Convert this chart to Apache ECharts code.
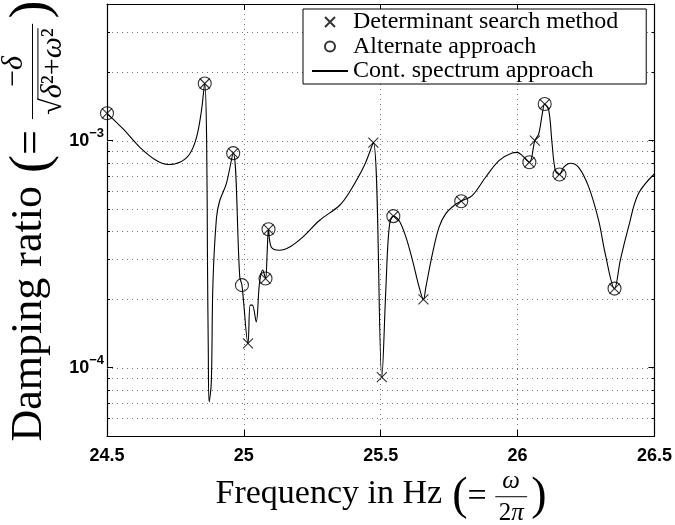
<!DOCTYPE html>
<html>
<head>
<meta charset="utf-8">
<script src="https://cdn.jsdelivr.net/npm/echarts@6/dist/echarts.min.js"></script>
<style>
html, body { margin: 0; padding: 0; background: #fff; }
#chart { width: 675px; height: 525px; }
</style>
</head>
<body>
<div id="chart"></div>
<script>
// frequency (Hz) / damping ratio
var detFreq = [24.500, 24.857, 24.961, 25.015, 25.079, 25.090, 25.473, 25.504, 25.546, 25.656, 25.794, 26.043, 26.063, 26.099, 26.153, 26.354];
var detDamp = [1.32e-3, 1.786e-3, 8.81e-4, 1.28e-4, 2.47e-4, 4.07e-4, 9.8e-4, 9.08e-5, 4.65e-4, 2.0e-4, 5.41e-4, 8.03e-4, 1.0e-3, 1.45e-3, 7.1e-4, 2.23e-4];

var altFreq = [24.500, 24.857, 24.961, 24.993, 25.079, 25.090, 25.546, 25.794, 26.043, 26.099, 26.153, 26.354];
var altDamp = [1.32e-3, 1.786e-3, 8.81e-4, 2.31e-4, 2.47e-4, 4.07e-4, 4.65e-4, 5.41e-4, 8.03e-4, 1.45e-3, 7.1e-4, 2.23e-4];

var contFreq = [24.500, 24.559, 24.620, 24.681, 24.723, 24.766, 24.802, 24.827, 24.845, 24.857,
	24.864, 24.867, 24.870, 24.873, 24.881, 24.887, 24.900, 24.912, 24.936, 24.961,
	24.985, 24.993, 25.015, 25.023, 25.031, 25.045, 25.057, 25.069, 25.079, 25.085,
	25.090, 25.100, 25.130, 25.167, 25.215, 25.276, 25.349, 25.385, 25.440, 25.473,
	25.504, 25.519, 25.531, 25.546, 25.567, 25.592, 25.616, 25.640, 25.656, 25.665,
	25.689, 25.713, 25.737, 25.768, 25.794, 25.834, 25.883, 25.932, 25.980, 25.998,
	26.017, 26.043, 26.063, 26.077, 26.090, 26.099, 26.114, 26.126, 26.138, 26.153,
	26.168, 26.193, 26.223, 26.260, 26.296, 26.320, 26.354, 26.375, 26.405, 26.441, 26.500];
var contDamp = [1.32e-3, 1.126e-3, 9.35e-4, 8.17e-4, 7.85e-4, 8.03e-4, 8.74e-4, 1.034e-3, 1.355e-3, 1.786e-3,
	1.0e-3, 3.0e-4, 1.2e-4, 7.07e-5, 8.57e-5, 2.355e-4, 4.59e-4, 5.45e-4, 6.47e-4, 8.81e-4,
	2.51e-4, 2.31e-4, 1.28e-4, 1.885e-4, 1.885e-4, 1.59e-4, 2.355e-4, 2.69e-4, 2.47e-4, 3.2e-4,
	4.07e-4, 3.40e-4, 3.29e-4, 3.40e-4, 3.76e-4, 4.45e-4, 5.18e-4, 5.91e-4, 7.77e-4, 9.8e-4,
	9.08e-5, 2.27e-4, 4.16e-4, 4.65e-4, 4.45e-4, 3.76e-4, 2.97e-4, 2.27e-4, 2.0e-4, 2.27e-4,
	3.18e-4, 4.16e-4, 4.76e-4, 5.18e-4, 5.41e-4, 5.73e-4, 6.90e-4, 8.17e-4, 8.83e-4, 8.88e-4,
	8.59e-4, 8.03e-4, 1.0e-3, 1.07e-3, 1.31e-3, 1.45e-3, 1.355e-3, 9.67e-4, 7.38e-4, 7.1e-4,
	7.63e-4, 7.95e-4, 7.63e-4, 6.24e-4, 4.45e-4, 3.18e-4, 2.23e-4, 2.97e-4, 4.16e-4, 5.83e-4, 7.15e-4];

var xTicks = [24.5, 25, 25.5, 26, 26.5];
var yMajor = [1e-4, 1e-3];
var yGrid = [6e-5, 7e-5, 8e-5, 9e-5, 1e-4, 2e-4, 3e-4, 4e-4, 5e-4, 6e-4, 7e-4, 8e-4, 9e-4, 1e-3, 2e-3, 3e-3];
var yMin = 5e-5, yMax = 4e-3;

var SERIF = '"Liberation Serif", "Times New Roman", serif';
var SANS = '"Liberation Sans", Arial, sans-serif';

function zip(a, b) {
	return a.map(function (v, i) { return [v, b[i]]; });
}

// ---- axis titles with a small fraction (LaTeX look) ----
var measureCtx = document.createElement('canvas').getContext('2d');
function textWidth(str, size, style) {
	measureCtx.font = (style || 'normal') + ' ' + size + 'px ' + SERIF;
	return measureCtx.measureText(str).width;
}
function runWidth(run, size) {
	var w = 0;
	run.forEach(function (p) { w += textWidth(p[0], size, p[1] ? 'italic' : 'normal'); });
	return w;
}
function runTexts(run, size, x0, y) {
	var out = [], x = x0;
	run.forEach(function (p) {
		var st = p[1] ? 'italic' : 'normal';
		out.push({ type: 'text', x: x, y: y, silent: true,
			style: { text: p[0], fontFamily: SERIF, fontSize: size, fontStyle: st, fill: '#000', align: 'left', verticalAlign: 'middle' } });
		x += textWidth(p[0], size, st);
	});
	return out;
}
function hline(x1, x2, y) {
	return { type: 'line', silent: true, shape: { x1: x1, y1: y, x2: x2, y2: y }, style: { stroke: '#000', lineWidth: 1 } };
}
function fracTitle(label, num, den, root, size, small, big) {
	var ax = size * 0.08; // math axis
	var kids = [], x = 0;
	kids = kids.concat(runTexts([[label, false]], size, x, 0));
	x += textWidth(label, size) + size * 0.3;
	kids = kids.concat(runTexts([['(', false]], big, x, ax));
	x += textWidth('(', big);
	kids = kids.concat(runTexts([['=', false]], size, x, ax));
	x += textWidth('=', size) + size * 0.25;
	var wn = runWidth(num, small), wd = runWidth(den, small);
	var rw = root ? textWidth('\u221A', small) : 0;
	var wf = Math.max(wn, wd + rw) + size * 0.2;
	kids = kids.concat(runTexts(num, small, x + (wf - wn) / 2, ax - small * 0.62));
	kids.push(hline(x, x + wf, ax));
	var dx = x + (wf - wd - rw) / 2, dy = ax + small * 0.68;
	if (root) {
		kids = kids.concat(runTexts([['\u221A', false]], small, dx, dy));
		kids.push(hline(dx + rw - 1, dx + rw + wd, dy - small * 0.5));
	}
	kids = kids.concat(runTexts(den, small, dx + rw, dy));
	x += wf + size * 0.12;
	kids = kids.concat(runTexts([[')', false]], big, x, ax));
	x += textWidth(')', big);
	kids.forEach(function (k) {
		if (k.type === 'line') { k.shape.x1 -= x / 2; k.shape.x2 -= x / 2; }
		else { k.x -= x / 2; }
	});
	return kids;
}

var yTitle = fracTitle('Damping ratio',
	[['\u2212', false], ['\u03B4', true]],
	[['\u03B4', true], ['\u00B2+', false], ['\u03C9', true], ['\u00B2', false]], true, 44, 30, 54);
var xTitle = fracTitle('Frequency in Hz',
	[['\u03C9', true]],
	[['2', false], ['\u03C0', true]], false, 34, 25, 46);

var chart = echarts.init(document.getElementById('chart'));

var axisLineStyle = { color: '#000', width: 1.2 };
var gridDash = [1, 4];

var option = {
	backgroundColor: '#fff',
	animation: false,
	grid: { left: 107, right: 19, top: 4, bottom: 89, containLabel: false },
	legend: {
		orient: 'vertical',
		left: 303, top: 9,
		data: ['Determinant search method', 'Alternate approach', 'Cont. spectrum approach'],
		backgroundColor: '#fff',
		borderColor: '#000', borderWidth: 1, borderRadius: 0,
		padding: [1, 28, 1, 8],
		itemGap: 0.5, itemWidth: 36, itemHeight: 10,
		selectedMode: false,
		textStyle: { fontFamily: SERIF, fontSize: 24, lineHeight: 22.5, color: '#000' }
	},
	xAxis: [{
		type: 'value', position: 'bottom',
		min: xTicks[0], max: xTicks[xTicks.length - 1], interval: 0.5,
		axisLine: { lineStyle: axisLineStyle },
		axisTick: { inside: true, length: 6, lineStyle: { color: '#000' } },
		axisLabel: { color: '#000', fontFamily: SANS, fontWeight: 'bold', fontSize: 18, margin: 11 },
		splitLine: { show: true, lineStyle: { color: '#777', type: gridDash, width: 1 } }
	}, {
		type: 'value', position: 'top',
		min: xTicks[0], max: xTicks[xTicks.length - 1], interval: 0.5,
		axisLine: { lineStyle: axisLineStyle },
		axisTick: { inside: true, length: 6, lineStyle: { color: '#000' } },
		axisLabel: { show: false },
		splitLine: { show: false }
	}],
	yAxis: [{
		type: 'log', logBase: 10, position: 'left',
		min: yMin, max: yMax,
		axisLine: { show: true, lineStyle: axisLineStyle },
		axisTick: { inside: true, length: 6, lineStyle: { color: '#000' } },
		axisLabel: {
			margin: 3,
			formatter: function (v) {
				var e = Math.log(v) / Math.LN10;
				var r = Math.round(e);
				if (Math.abs(e - r) > 1e-6) return '';
				return '{b|10}{s|\u2212' + (-r) + '}';
			},
			rich: {
				b: { fontFamily: SANS, fontWeight: 'bold', fontSize: 18, color: '#000' },
				s: { fontFamily: SANS, fontWeight: 'bold', fontSize: 13, color: '#000', padding: [0, 0, 14, 0] }
			}
		},
		splitLine: { show: false }
	}, {
		type: 'log', logBase: 10, position: 'right',
		min: yMin, max: yMax,
		axisLine: { show: true, lineStyle: axisLineStyle },
		axisTick: { inside: true, length: 6, lineStyle: { color: '#000' } },
		axisLabel: { show: false },
		splitLine: { show: false }
	}],
	graphic: [{
		type: 'group', x: 29, y: 221, rotation: Math.PI / 2, children: yTitle
	}, {
		type: 'group', x: 381, y: 494, children: xTitle
	}],
	series: [{
		// horizontal dotted grid and small minor ticks
		type: 'custom', name: 'grid', silent: true, z: 1,
		data: yGrid.map(function (v) { return [xTicks[0], v]; }),
		renderItem: function (params, api) {
			var p = api.coord([api.value(0), api.value(1)]);
			var cs = params.coordSys;
			var y = Math.round(p[1]) + 0.5;
			var kids = [{
				type: 'line', shape: { x1: cs.x, y1: y, x2: cs.x + cs.width, y2: y },
				style: { stroke: '#777', lineWidth: 1, lineDash: gridDash }
			}];
			if (yMajor.indexOf(api.value(1)) < 0) {
				kids.push({ type: 'line', shape: { x1: cs.x, y1: y, x2: cs.x + 3, y2: y }, style: { stroke: '#000', lineWidth: 1 } });
				kids.push({ type: 'line', shape: { x1: cs.x + cs.width - 3, y1: y, x2: cs.x + cs.width, y2: y }, style: { stroke: '#000', lineWidth: 1 } });
			}
			return { type: 'group', children: kids };
		}
	}, {
		name: 'Cont. spectrum approach',
		type: 'line', symbol: 'none', z: 3,
		smooth: 0.35,
		itemStyle: { color: '#000', opacity: 0 },
		lineStyle: { color: '#000', width: 1.1 },
		data: zip(contFreq, contDamp)
	}, {
		name: 'Determinant search method',
		type: 'scatter', z: 4,
		symbol: 'path://M0,0L10,10M10,0L0,10', symbolSize: 10,
		itemStyle: { color: 'none', borderColor: '#000', borderWidth: 1.1 },
		data: zip(detFreq, detDamp)
	}, {
		name: 'Alternate approach',
		type: 'scatter', z: 4,
		symbol: 'circle', symbolSize: 13,
		itemStyle: { color: 'rgba(0,0,0,0)', borderColor: '#000', borderWidth: 1.1 },
		data: zip(altFreq, altDamp)
	}]
};

chart.setOption(option);
</script>
</body>
</html>
